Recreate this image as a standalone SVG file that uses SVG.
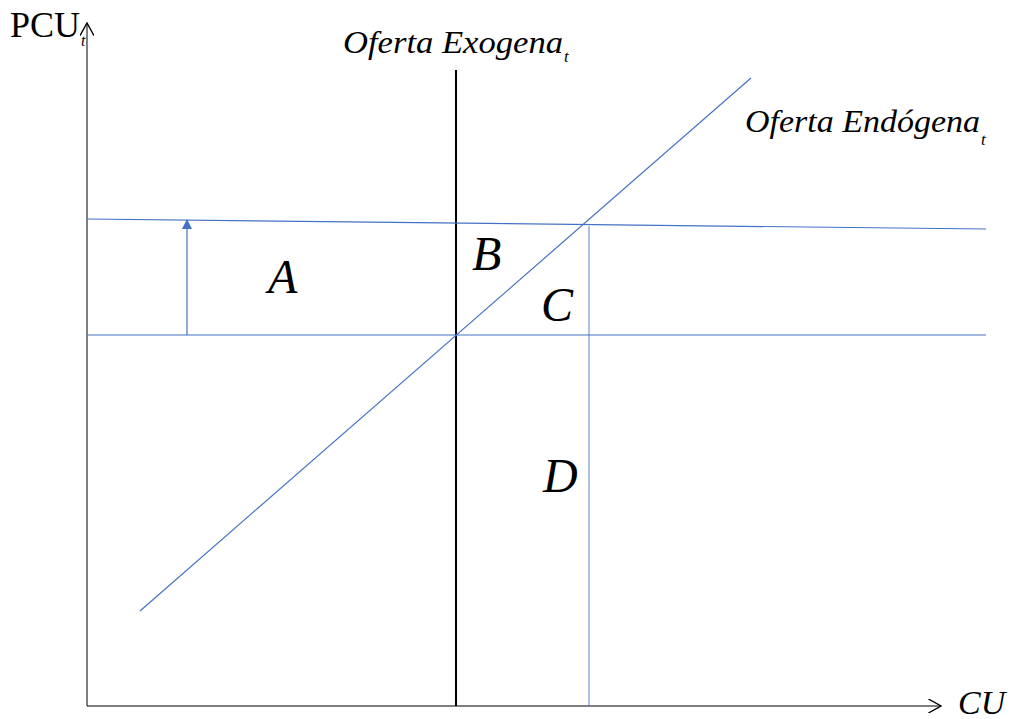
<svg xmlns="http://www.w3.org/2000/svg" width="1011" height="719" viewBox="0 0 1011 719">
<style>
.t{font-family:"Liberation Serif","Times New Roman",serif;fill:#000}
.i{font-style:italic}
.big{font-size:48px;font-style:italic}
.b{stroke:#4472c4;stroke-width:1.2;fill:none}
</style>
<defs>
<marker id="open" viewBox="0 0 10 10" refX="9" refY="5" markerWidth="14" markerHeight="14" markerUnits="userSpaceOnUse" orient="auto"><path d="M0,0 L9,5 L0,10" fill="none" stroke="#000" stroke-width="1"/></marker>
<marker id="tri" viewBox="0 0 10 10" refX="9" refY="5" markerWidth="10" markerHeight="10" markerUnits="userSpaceOnUse" orient="auto"><path d="M0,0 L10,5 L0,10 Z" fill="#4472c4"/></marker>
</defs>
<rect width="1011" height="719" fill="#fff"/>
<g id="connectors">
<line x1="87" y1="706" x2="87" y2="23" stroke="#000" stroke-width="1" marker-end="url(#open)"/>
<line x1="87" y1="706" x2="941" y2="706" stroke="#000" stroke-width="1" marker-end="url(#open)"/>
<line x1="456" y1="70" x2="456" y2="706" stroke="#000" stroke-width="2"/>
<line class="b" x1="87" y1="219" x2="986" y2="229"/>
<line class="b" x1="87" y1="335" x2="986" y2="335"/>
<line class="b" x1="140" y1="611" x2="751" y2="78"/>
<line x1="589" y1="226" x2="589" y2="706" stroke="#4472c4" stroke-width="0.9"/>
<line class="b" x1="187" y1="335" x2="187" y2="220" stroke-width="1.5" marker-end="url(#tri)"/>
</g>
<g id="labels">
<text class="t" x="10" y="37" font-size="36">PCU</text>
<text class="t i" x="81" y="46" font-size="16">t</text>
<text class="t i" x="343" y="53" font-size="31" textLength="220" lengthAdjust="spacingAndGlyphs">Oferta Exogena</text>
<text class="t i" x="564" y="62" font-size="17">t</text>
<text class="t i" x="745" y="132" font-size="31" textLength="235" lengthAdjust="spacingAndGlyphs">Oferta Endógena</text>
<text class="t i" x="981" y="145" font-size="17">t</text>
<text class="t big" x="268" y="293">A</text>
<text class="t big" x="472" y="270">B</text>
<text class="t big" x="541" y="321">C</text>
<text class="t big" x="543" y="492">D</text>
<text class="t i" x="958" y="714" font-size="34">CU</text>
</g>
</svg>
